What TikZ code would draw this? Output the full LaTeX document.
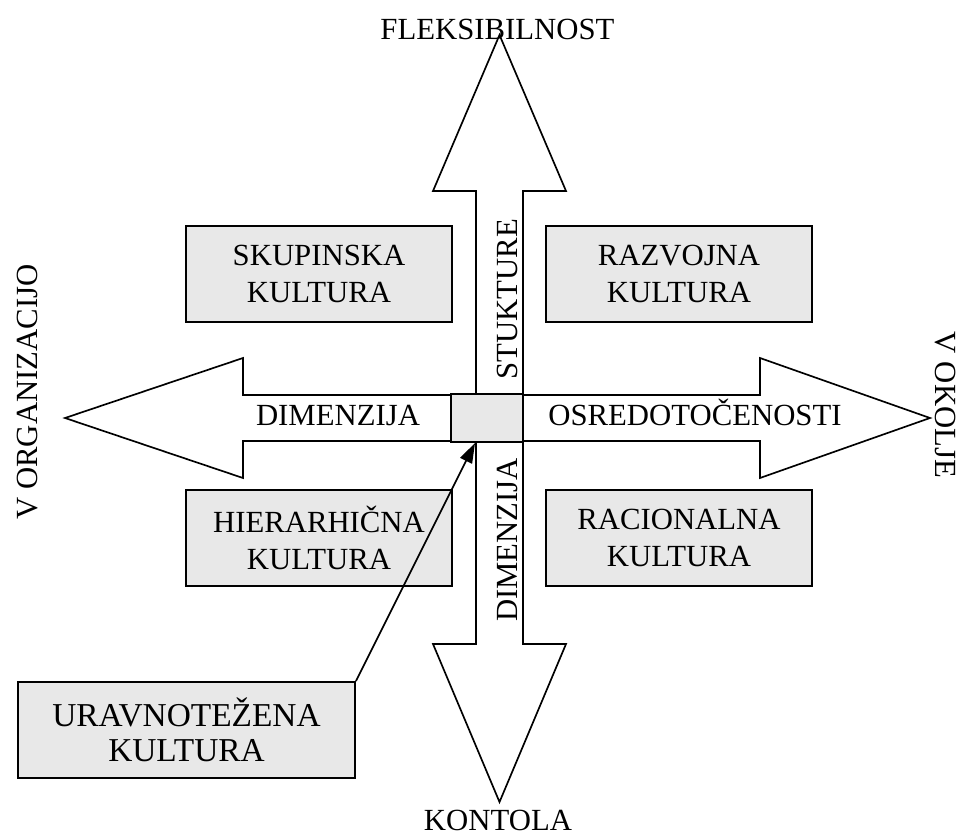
\documentclass[tikz,border=0pt]{standalone}
\usepackage{fontspec}
\setmainfont{Liberation Serif}
\usepackage{tikz}
\usetikzlibrary{calc,arrows.meta,positioning}
\definecolor{boxgrey}{gray}{0.91}

\begin{document}
\begin{tikzpicture}[x=0.02cm,y=-0.02cm,font=\fontsize{17.5}{21}\selectfont]

\tikzset{kulturnode/.style={draw=black,line width=1.1pt,fill=boxgrey,align=center,inner sep=0pt,minimum width=266*0.02cm,minimum height=96*0.02cm},
bigarrow/.style={draw=black,line width=0.95pt,fill=white,line join=miter},
axislabel/.style={inner sep=0pt,anchor=base}}

\useasboundingbox (0,0) rectangle (962,834);

% Vertical arrow (fleksibilnost - kontrola)
\draw[bigarrow] (499.5,35) -- (566,191) -- (523,191) -- (523,644) -- (566,644) -- (499.5,802)
  -- (433,644) -- (476,644) -- (476,191) -- (433,191) -- cycle;

% Horizontal arrow (organizacija - okolje)
\draw[bigarrow] (65,418) -- (243,358) -- (243,395) -- (760,395) -- (760,358) -- (930,418)
  -- (760,478) -- (760,441) -- (243,441) -- (243,478) -- cycle;

% Centre square
\node (jedro) [draw=black,line width=1.1pt,fill=boxgrey,inner sep=0pt,minimum width=72*0.02cm,minimum height=48*0.02cm] at (487,418) {};

% Axis ends
\node[axislabel] (fleks) at (497.5,40) {FLEKSIBILNOST};
\node[axislabel] (kontr) at (498,830) {KONTOLA};
\node[axislabel,rotate=90] (organ) at (37,392) {V ORGANIZACIJO};
\node[axislabel,rotate=-90] (okolje) at (935,405) {V OKOLJE};

% Labels on the arrows
\node[axislabel,rotate=90] (stukt) at (517,299) {STUKTURE};
\node[axislabel,rotate=90] (dimV) at (517,540) {DIMENZIJA};
\node[axislabel] (dimH) at (338,425) {DIMENZIJA};
\node[axislabel] (osred) at (695,425) {OSREDOTOČENOSTI};

% Culture boxes
\node (skup) [kulturnode] at (319,274) {SKUPINSKA\\KULTURA};
\node (razv) [kulturnode] at (679,274) {RAZVOJNA\\KULTURA};
\node (hier) [kulturnode] at (319,538) {HIERARHIČNA\\KULTURA};
\node (raci) [kulturnode] at (679,538) {RACIONALNA\\KULTURA};
\node (urav) [kulturnode,minimum width=337*0.02cm,font=\fontsize{19}{20}\selectfont] at (186.5,730) {URAVNOTEŽENA\\KULTURA};

% Pointer to the centre
\draw[line width=0.95pt,-{Triangle[length=0.4cm,width=0.26cm]}] (urav.north east) -- ($(jedro.south west)+(25,0)$);

\end{tikzpicture}
\end{document}
